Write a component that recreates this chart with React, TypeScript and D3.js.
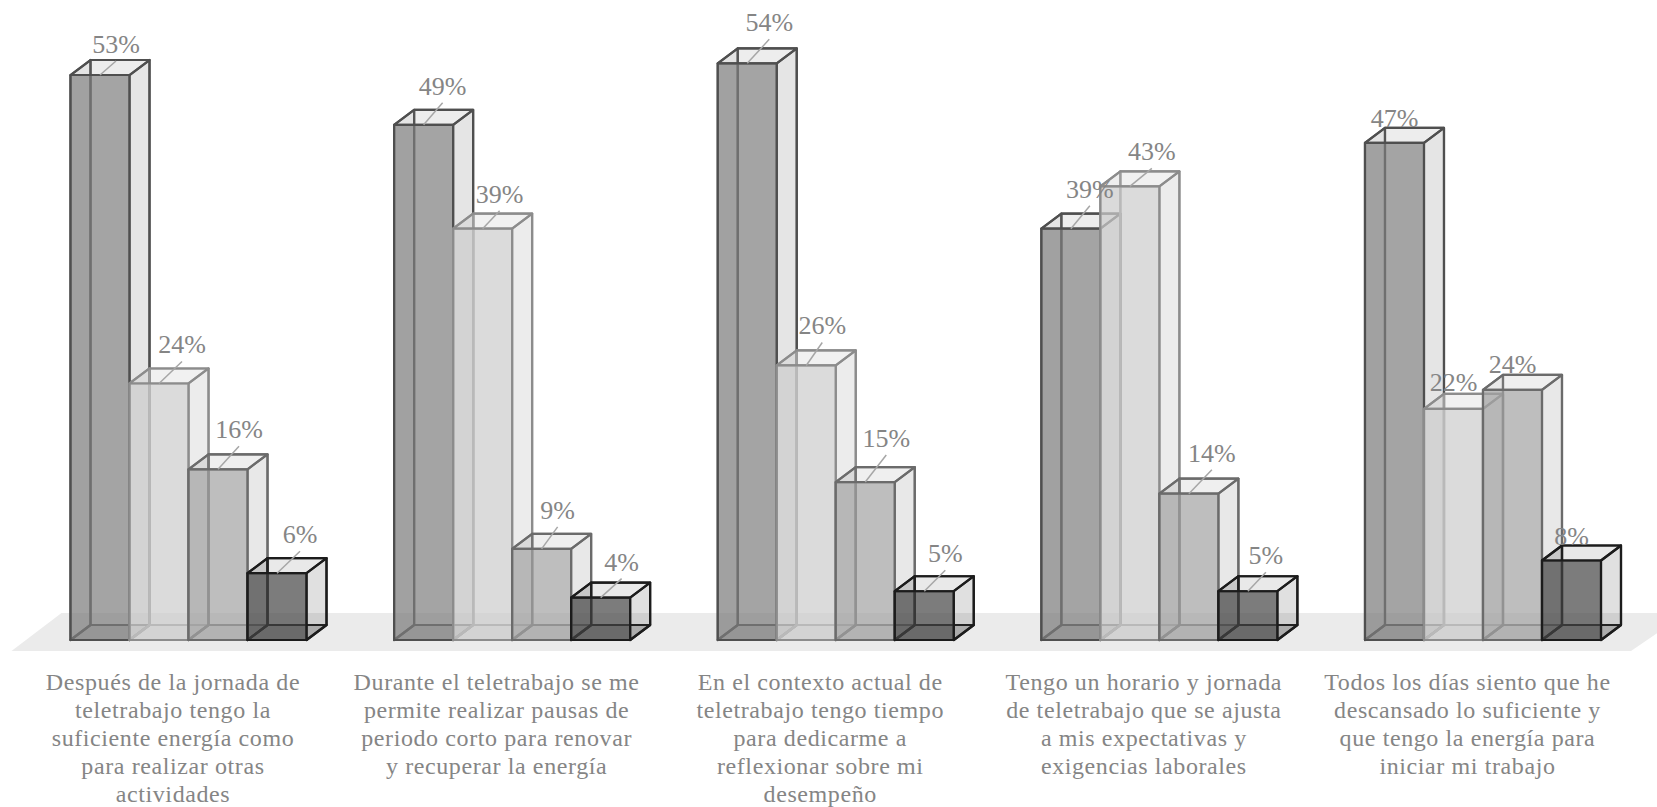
import * as d3 from "d3";

const categories = [
  ["Después de la jornada de", "teletrabajo tengo la", "suficiente energía como", "para realizar otras", "actividades"],
  ["Durante el teletrabajo se me", "permite realizar pausas de", "periodo corto para renovar", "y recuperar la energía"],
  ["En el contexto actual de", "teletrabajo tengo tiempo", "para dedicarme a", "reflexionar sobre mi", "desempeño"],
  ["Tengo un horario y jornada", "de teletrabajo que se ajusta", "a mis expectativas y", "exigencias laborales"],
  ["Todos los días siento que he", "descansado lo suficiente y", "que tengo la energía para", "iniciar mi trabajo"],
];

// bar heights per series (percent)
const serieA = [53.3, 48.6, 54.4, 38.8, 46.9];
const serieB = [24.2, 38.8, 25.9, 42.8, 21.8];
const serieC = [16.1, 8.6, 14.9, 13.8, 23.6];
const serieD = [6.3, 4.0, 4.6, 4.6, 7.5];
const series = [serieA, serieB, serieC, serieD];

const printed = [
  [53, 49, 54, 39, 47],
  [24, 39, 26, 43, 22],
  [16, 9, 15, 14, 24],
  [6, 4, 5, 5, 8],
];

// manual label offsets from the middle of the front top edge [dx, dy], per series then group
const labelDx = [
  [16, 19, 22, 19, 0],
  [23, 17, 16, 22, 0],
  [21, 16, 21, 23, 0],
  [23, 21, 21, 18, 0],
];
const labelDy = [
  [-22, -30, -32, -31, -16],
  [-30, -26, -31, -26, -18],
  [-31, -30, -35, -32, -17],
  [-30, -27, -29, -27, -16],
];

const frontFill = ["#7e7e7e", "#cccccc", "#a2a2a2", "#454545"];
const sideFill = ["#7e7e7e", "#cccccc", "#a2a2a2", "#454545"];
const sideAlpha = [0.2, 0.38, 0.25, 0.17];
const strokes = ["#4f4f4f", "#8c8c8c", "#6b6b6b", "#1c1c1c"];

const W = 1657;
const H = 807;
const baseY = 640;
const depthX = 20;
const depthY = 15;
const textColor = "#858585";
const serif = "'Liberation Serif', serif";

const x0 = d3
  .scaleBand<number>()
  .domain(d3.range(categories.length))
  .range([70.5, 1601])
  .paddingInner(0.2707)
  .paddingOuter(0);
const x1 = d3
  .scaleBand<number>()
  .domain(d3.range(series.length))
  .range([0, x0.bandwidth()]);
const y = d3.scaleLinear().domain([0, 60]).range([baseY, baseY - 636]);

const line = d3.line();

function poly(points: [number, number][]) {
  return line(points) + "Z";
}

function Box({ g, s }: { g: number; s: number }) {
  const l = x0(g)! + x1(s)!;
  const r = l + x1.bandwidth();
  const t = y(series[s][g]);
  const b = baseY;
  const dx = depthX;
  const dy = depthY;
  const stroke = strokes[s];
  return (
    <g strokeLinejoin="round" stroke={stroke} strokeWidth={2.2}>
      {/* inner faces */}
      <path d={poly([[l + dx, t - dy], [r + dx, t - dy], [r + dx, b - dy], [l + dx, b - dy]])} fill="none" />
      <path d={poly([[l, b], [r, b], [r + dx, b - dy], [l + dx, b - dy]])} fill={sideFill[s]} fillOpacity={0.25} />
      <path d={poly([[l, t], [l + dx, t - dy], [l + dx, b - dy], [l, b]])} fill={sideFill[s]} fillOpacity={0.08} />
      {/* outer faces */}
      <path d={poly([[r, t], [r + dx, t - dy], [r + dx, b - dy], [r, b]])} fill={sideFill[s]} fillOpacity={sideAlpha[s]} />
      <path d={poly([[l, t], [r, t], [r + dx, t - dy], [l + dx, t - dy]])} fill={sideFill[s]} fillOpacity={sideAlpha[s] * 0.7} />
      <path d={poly([[l, t], [r, t], [r, b], [l, b]])} fill={frontFill[s]} fillOpacity={0.7} />
    </g>
  );
}

export default function App() {
  const floorL = x0.range()[0];
  return (
    <svg
      width={W}
      height={H}
      style={{ position: "absolute", left: 0, top: 0, background: "#fff" }}
    >
      <path
        d={poly([
          [floorL - 9, 613],
          [W + 30, 613],
          [W - 26, 651],
          [floorL - 59, 651],
        ])}
        fill="#ebebeb"
      />
      {categories.map((_, g) =>
        series.map((_, s) => <Box key={`${g}-${s}`} g={g} s={s} />)
      )}
      {categories.map((_, g) =>
        series.map((ser, s) => {
          const mid = x0(g)! + x1(s)! + x1.bandwidth() / 2;
          const top = y(ser[g]);
          const lx = mid + labelDx[s][g];
          const ly = top + labelDy[s][g];
          return (
            <g key={`${g}-${s}`}>
              {labelDx[s][g] !== 0 && (
                <line x1={mid} y1={top} x2={lx} y2={ly + 8} stroke="#a6a6a6" strokeWidth={1.5} />
              )}
              <text x={lx} y={ly} textAnchor="middle" fontFamily={serif} fontSize={26} fill={textColor}>
                {printed[s][g]}%
              </text>
            </g>
          );
        })
      )}
      {categories.map((lines, g) => (
        <text
          key={g}
          fontFamily={serif}
          fontSize={24}
          letterSpacing={0.6}
          fill={textColor}
          textAnchor="middle"
        >
          {lines.map((t, i) => (
            <tspan key={i} x={x0(g)! + 102.5} y={690 + i * 28}>
              {t}
            </tspan>
          ))}
        </text>
      ))}
    </svg>
  );
}
